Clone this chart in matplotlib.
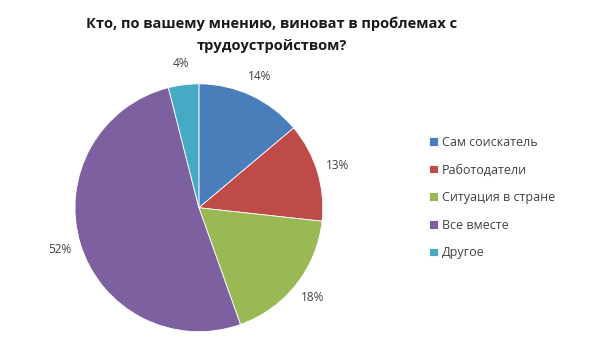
import matplotlib.pyplot as plt

plt.rcParams['font.family'] = ['Open Sans', 'DejaVu Sans']

# data
categories = ['Сам соискатель', 'Работодатели', 'Ситуация в стране', 'Все вместе', 'Другое']
shares = [14, 13, 18, 52, 4]
pct_labels = ['14%', '13%', '18%', '52%', '4%']
colors = ['#4A7EBB', '#BE4B48', '#98B954', '#7D60A0', '#46AAC5']

fig = plt.figure(figsize=(6, 3.61), dpi=100)
ax = fig.add_axes([0.125, 0.081, 0.413, 0.687])

wedges, texts = ax.pie(shares, colors=colors, startangle=90, counterclock=False,
                       labels=pct_labels, labeldistance=1.17,
                       wedgeprops=dict(linewidth=0.6, edgecolor='white'),
                       textprops=dict(fontsize=8.5, color='#404040'))
for t in texts:
    t.set_horizontalalignment('center')
    t.set_verticalalignment('center')
ax.set_xlim(-1, 1)
ax.set_ylim(-1, 1)
ax.set_aspect('equal')

fig.text(0.453, 0.904, 'Кто, по вашему мнению, виноват в проблемах с\nтрудоустройством?',
         ha='center', va='center', fontsize=10.5, fontweight='bold', linespacing=1.7,
         color='#1a1a1a')

fig.legend(wedges, categories, loc='upper left', bbox_to_anchor=(0.697, 0.655),
           frameon=False, fontsize=9, handlelength=0.7, handleheight=0.7,
           handletextpad=0.3, labelspacing=1.17, labelcolor='#404040')

fig.savefig('out.png', dpi=100)
